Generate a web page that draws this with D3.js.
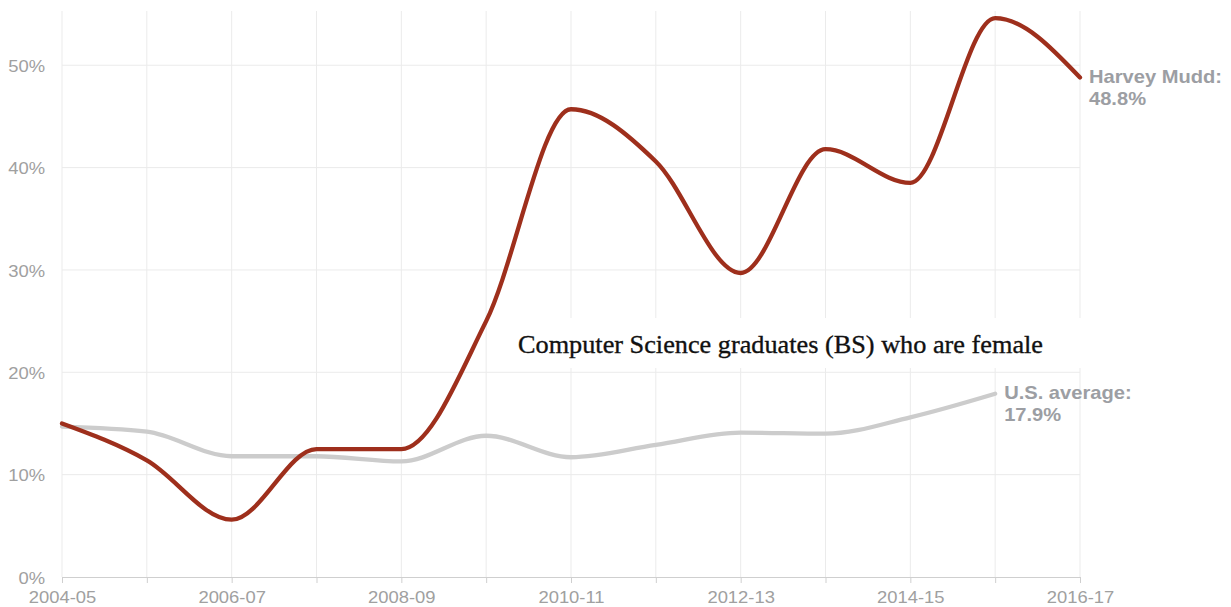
<!DOCTYPE html>
<html>
<head>
<meta charset="utf-8">
<script src="https://d3js.org/d3.v7.min.js"></script>
<style>
  body { margin: 0; background: #fff; }
  svg { display: block; }
</style>
</head>
<body>
<svg id="chart"></svg>
<script>
var width = 1231,
    height = 607;

var years = ["2004-05", "2005-06", "2006-07", "2007-08", "2008-09", "2009-10",
             "2010-11", "2011-12", "2012-13", "2013-14", "2014-15", "2015-16", "2016-17"];

// percent of CS graduates (BS) who are female
var harveyMudd = [15.0, 11.4, 5.6, 12.5, 12.5, 25.0, 45.7, 40.6, 29.7, 41.8, 38.5, 54.6, 48.8];
var usAverage  = [14.7, 14.2, 11.8, 11.8, 11.3, 13.8, 11.7, 12.9, 14.1, 14.0, 15.6, 17.9];

var seriesNames = ["Harvey Mudd:", "U.S. average:"];
var yTicks = [0, 10, 20, 30, 40, 50];
var title = "Computer Science graduates (BS) who are female";

var svg = d3.select("#chart")
    .attr("width", width)
    .attr("height", height);

var x = d3.scalePoint().domain(years).range([62, 1080]);
var y = d3.scaleLinear().domain([0, 55.3]).range([577, 11]);

var stretch = "scale(1.15,1)";

// grid
svg.append("g")
    .selectAll("line")
    .data(years)
    .enter().append("line")
    .attr("x1", function(d) { return x(d); })
    .attr("x2", function(d) { return x(d); })
    .attr("y1", y(0))
    .attr("y2", y.range()[1])
    .style("stroke", "#ebebeb")
    .style("stroke-width", 1);

svg.append("g")
    .selectAll("line")
    .data(yTicks.slice(1))
    .enter().append("line")
    .attr("x1", x.range()[0])
    .attr("x2", x.range()[1])
    .attr("y1", function(d) { return y(d); })
    .attr("y2", function(d) { return y(d); })
    .style("stroke", "#ebebeb")
    .style("stroke-width", 1);

// white box behind title
svg.append("rect")
    .attr("x", 500)
    .attr("y", 318)
    .attr("width", 590)
    .attr("height", 50)
    .style("fill", "#fff");

svg.append("text")
    .attr("x", 518)
    .attr("y", 353)
    .attr("textLength", 525)
    .attr("lengthAdjust", "spacingAndGlyphs")
    .style("font-family", "'Liberation Serif', serif")
    .style("font-size", "26px")
    .style("fill", "#111")
    .style("stroke", "#111")
    .style("stroke-width", 0.35)
    .text(title);

// x axis
var xAxis = svg.append("g")
    .attr("transform", "translate(0," + y(0) + ")")
    .call(d3.axisBottom(x)
      .tickSize(6)
      .tickSizeOuter(0)
      .tickPadding(8.5)
      .tickFormat(function(d, i) { return i % 2 ? "" : d; }));

xAxis.select(".domain").style("stroke", "#cfcfcf");
xAxis.selectAll(".tick line").style("stroke", "#cfcfcf");
xAxis.selectAll(".tick text")
    .attr("transform", stretch)
    .style("font-family", "'Liberation Sans', Arial, sans-serif")
    .style("font-size", "16px")
    .style("fill", "#a0a0a0");

// y axis
var yAxis = svg.append("g")
    .attr("transform", "translate(45,1)")
    .call(d3.axisLeft(y)
      .tickValues(yTicks)
      .tickSize(0)
      .tickPadding(0)
      .tickFormat(function(d) { return d + "%"; }));

yAxis.select(".domain").remove();
yAxis.selectAll(".tick text")
    .attr("transform", stretch)
    .style("font-family", "'Liberation Sans', Arial, sans-serif")
    .style("font-size", "16px")
    .style("fill", "#a0a0a0");

// lines
var line = d3.line()
    .x(function(d, i) { return x(years[i]); })
    .y(function(d) { return y(d); })
    .curve(d3.curveMonotoneX);

var series = [
  {name: seriesNames[1], values: usAverage, color: "#cccccc"},
  {name: seriesNames[0], values: harveyMudd, color: "#9e2f1c"}
];

svg.selectAll(".series")
    .data(series)
    .enter().append("path")
    .attr("class", "series")
    .attr("d", function(d) { return line(d.values); })
    .style("fill", "none")
    .style("stroke", function(d) { return d.color; })
    .style("stroke-width", 4.3)
    .style("stroke-linejoin", "round")
    .style("stroke-linecap", "round");

// end labels
series.forEach(function(s) {
  var last = s.values.length - 1;
  var g = svg.append("g")
      .attr("transform", "translate(" + (x(years[last]) + 9) + "," + (y(s.values[last]) + 5) + ")");
  var t = g.append("text")
      .attr("transform", stretch)
      .style("font-family", "'Liberation Sans', Arial, sans-serif")
      .style("font-size", "17.5px")
      .style("font-weight", "bold")
      .style("fill", "#9c9ea3");
  t.append("tspan").attr("x", 0).attr("y", 0).text(s.name);
  t.append("tspan").attr("x", 0).attr("y", 22.5).text(s.values[last].toFixed(1) + "%");
});
</script>
</body>
</html>
